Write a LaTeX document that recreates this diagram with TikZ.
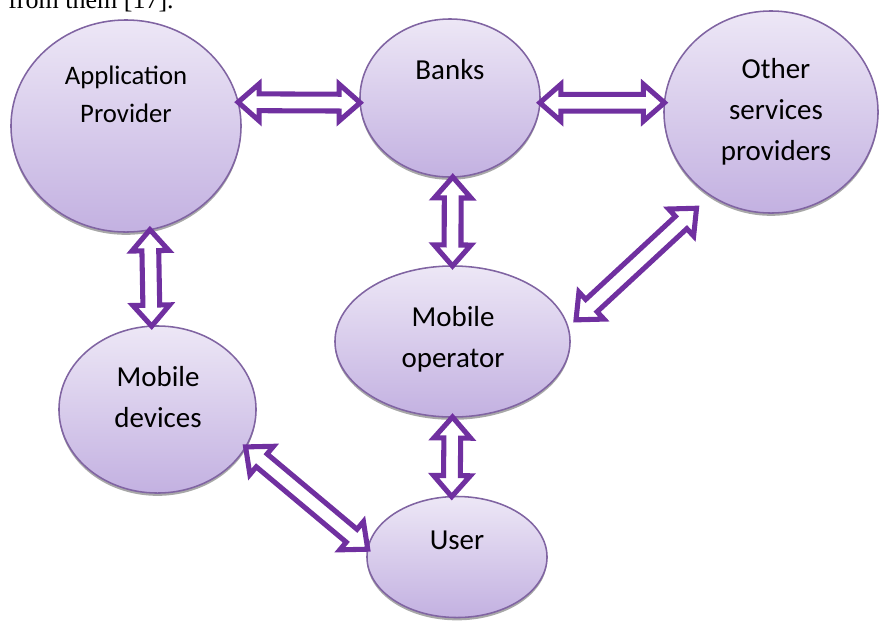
\documentclass[tikz,border=0pt]{standalone}
\usepackage{fontspec}
\setmainfont{Carlito}
\newfontfamily\paperfont{Liberation Serif}
\usetikzlibrary{shapes.geometric,shadows,calc}

\definecolor{blobline}{HTML}{8064A2}
\definecolor{blobtop}{HTML}{EDE7F6}
\definecolor{blobbot}{HTML}{C3B1E1}
\definecolor{arrline}{HTML}{7030A0}

% hollow two-headed arrow from #1 to #2
\newcommand{\dblarrow}[2]{%
  \draw[dblarr] (#1)
    -- ($(#1)!0.525cm!(#2)!0.46cm!90:(#2)$)
    -- ($(#1)!0.525cm!(#2)!0.21cm!90:(#2)$)
    -- ($(#2)!0.525cm!(#1)!0.21cm!-90:(#1)$)
    -- ($(#2)!0.525cm!(#1)!0.46cm!-90:(#1)$)
    -- (#2)
    -- ($(#2)!0.525cm!(#1)!0.46cm!90:(#1)$)
    -- ($(#2)!0.525cm!(#1)!0.21cm!90:(#1)$)
    -- ($(#1)!0.525cm!(#2)!0.21cm!-90:(#2)$)
    -- ($(#1)!0.525cm!(#2)!0.46cm!-90:(#2)$)
    -- cycle;}

\begin{document}
\begin{tikzpicture}[x=0.025cm, y=-0.025cm,
blob/.style = {% the ellipses
    ellipse, draw=blobline, line width=1.1pt,
    top color=blobtop, bottom color=blobbot,
    inner sep=0pt, outer sep=0pt,
    drop shadow={shadow xshift=0pt, shadow yshift=-2pt,
                 fill=gray!75, opacity=0.9},
              },
lbl/.style = {% texts in the ellipses
    align=center, inner sep=0pt,
    font=\fontsize{20.6pt}{29.2pt}\selectfont,
             },
dblarr/.style = {draw=arrline, fill=white, line width=3.6pt,
                 line join=miter},
                    ]
  \useasboundingbox (0,0) rectangle (879,621);

  \node[anchor=base west, inner sep=0pt,
        font=\paperfont\fontsize{18.5pt}{22pt}\selectfont]
        (cite) at (8,8) {from them [17].};

  \node[blob, minimum width=5.75cm, minimum height=5.3cm]
        (app) at (126,126) {};
  \node[blob, minimum width=4.5cm, minimum height=3.95cm]
        (banks) at (450,98) {};
  \node[blob, minimum width=5.35cm, minimum height=5.05cm]
        (other) at (771,112) {};
  \node[blob, minimum width=5.875cm, minimum height=3.775cm]
        (mobop) at (452.5,341.5) {};
  \node[blob, minimum width=4.925cm, minimum height=4.175cm]
        (mobdev) at (157.5,409.5) {};
  \node[blob, minimum width=4.5cm, minimum height=3.025cm]
        (user) at (457,557) {};

  \node[lbl, font=\fontsize{19pt}{27pt}\selectfont]
        (app-t) at (126,94) {Application\\Provider};
  \node[lbl] (banks-t)  at (450,69.5)  {Banks};
  \node[lbl] (other-t)  at (776,112)   {Other\\services\\providers};
  \node[lbl] (mobop-t)  at (453,339.5) {Mobile\\operator};
  \node[lbl] (mobdev-t) at (158,397.5) {Mobile\\devices};
  \node[lbl] (user-t)   at (457,540.5) {User};

  \coordinate (om1) at ($(other.234)!0.475cm!(mobop.7)$);
  \coordinate (om2) at ($(mobop.7)!0.275cm!(other.234)$);

  \dblarrow{app.12}{banks.183}
  \dblarrow{banks.357}{other.175}
  \dblarrow{banks.272}{mobop.north}
  \dblarrow{app.283}{mobdev.94}
  \dblarrow{mobop.south}{user.95}
  \dblarrow{mobdev.337}{user.175}
  \dblarrow{om1}{om2}

\end{tikzpicture}
\end{document}
